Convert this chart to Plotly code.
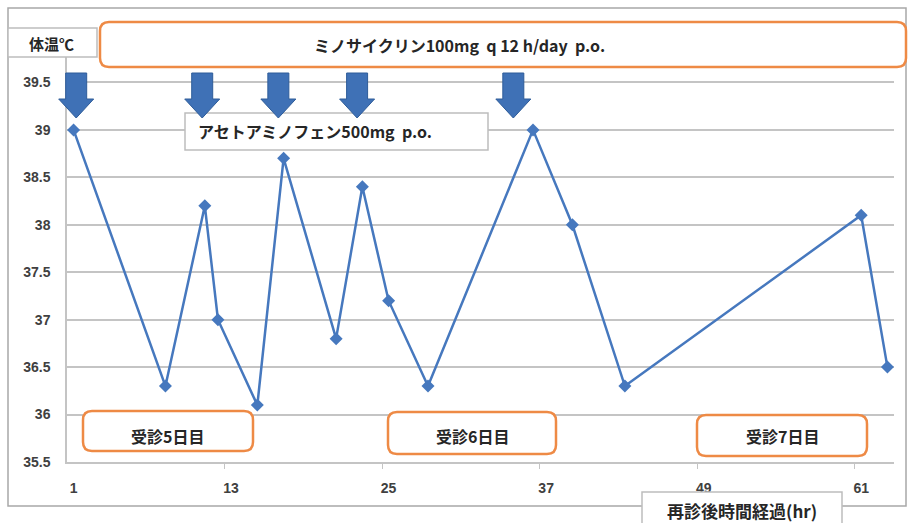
import plotly.graph_objects as go

# Body temperature readings (hours after re-visit, degrees C)
hours = [1, 8, 11, 12, 15, 17, 21, 23, 25, 28, 36, 39, 43, 61, 63]
temps = [39.0, 36.3, 38.2, 37.0, 36.1, 38.7, 36.8, 38.4, 37.2, 36.3, 39.0, 38.0, 36.3, 38.1, 36.5]

# Acetaminophen dosing times (hours)
dose_hours = [1.2, 10.8, 16.6, 22.6, 34.5]

x_ticks = [1, 13, 25, 37, 49, 61]
y_ticks = [35.5, 36, 36.5, 37, 37.5, 38, 38.5, 39, 39.5]
y_ticktext = ["35.5", "36", "36.5", "37", "37.5", "38", "38.5", "39", "39.5"]

X_RANGE = [0.5, 63.5]

W, H = 908, 523
L, R, T, B = 67, 14, 35, 61
PW, PH = W - L - R, H - T - B

BLUE = "#4678BE"
ORANGE = "#EE8A45"
GRAY = "#C4C4C4"
JP = "Noto Sans CJK JP"


def fx(px):
    return (px - L) / PW


def fy(py):
    return (H - B - py) / PH


def hour_to_paper(h):
    # same linear mapping as the x axis, so the arrows can overhang the plot area
    return (h - X_RANGE[0]) / (X_RANGE[1] - X_RANGE[0])


def rect_path(x0, y0, x1, y1, r=0):
    p = lambda a, b: f"{fx(a)},{fy(b)}"
    if r == 0:
        pts = [(x0, y0), (x1, y0), (x1, y1), (x0, y1)]
        return "M " + " L ".join(p(a, b) for a, b in pts) + " Z"
    return (f"M {p(x0 + r, y0)} L {p(x1 - r, y0)} Q {p(x1, y0)} {p(x1, y0 + r)} "
            f"L {p(x1, y1 - r)} Q {p(x1, y1)} {p(x1 - r, y1)} "
            f"L {p(x0 + r, y1)} Q {p(x0, y1)} {p(x0, y1 - r)} "
            f"L {p(x0, y0 + r)} Q {p(x0, y0)} {p(x0 + r, y0)} Z")


fig = go.Figure()
fig.add_trace(go.Scatter(
    x=hours, y=temps, mode="lines+markers",
    line=dict(color=BLUE, width=2.5),
    marker=dict(symbol="diamond", size=10, color=BLUE),
    showlegend=False, hoverinfo="x+y",
))

shapes = []
# outer chart frame
shapes.append(dict(type="path", xref="paper", yref="paper", path=rect_path(8, 8, 906, 506),
                   line=dict(color="#A8A8A8", width=1.5), fillcolor="rgba(0,0,0,0)", layer="below"))

# gray label boxes
for x0, y0, x1, y1 in [(8, 28, 97, 57), (185, 113, 488, 150), (642, 492, 842, 530)]:
    shapes.append(dict(type="path", xref="paper", yref="paper", path=rect_path(x0, y0, x1, y1),
                       line=dict(color="#BDBDBD", width=1.5), fillcolor="white", layer="above"))

# orange rounded boxes
for x0, y0, x1, y1 in [(100, 22, 906, 67), (83, 411, 253, 451), (388, 412, 556, 454), (697, 415, 867, 456)]:
    shapes.append(dict(type="path", xref="paper", yref="paper", path=rect_path(x0, y0, x1, y1, 9),
                       line=dict(color=ORANGE, width=2.5), fillcolor="white", layer="above"))

# block arrows marking acetaminophen doses
arrow = "M 0,0 L -17.5,19 L -10.5,19 L -10.5,45 L 10.5,45 L 10.5,19 L 17.5,19 Z"
for h in dose_hours:
    shapes.append(dict(type="path", xref="paper", yref="paper", xsizemode="pixel", ysizemode="pixel",
                       xanchor=hour_to_paper(h), yanchor=fy(118), path=arrow,
                       fillcolor="#3F71B6", line=dict(color="#2E5C99", width=1), layer="above"))

annotations = []
texts = [
    ("体温℃", 51, 43, 15),
    ("ミノサイクリン100mg  q 12 h/day  p.o.", 459, 45, 16),
    ("アセトアミノフェン500mg  p.o.", 315, 131, 16),
    ("受診5日目", 167, 436, 16),
    ("受診6日目", 472, 436, 16),
    ("受診7日目", 782, 436, 16),
    ("再診後時間経過(hr)", 742, 511, 17),
]
for t, cx, cy, sz in texts:
    annotations.append(dict(text=t, x=fx(cx), y=fy(cy), xref="paper", yref="paper",
                            xanchor="center", yanchor="middle", showarrow=False,
                            font=dict(family=JP, size=sz, color="#262626", weight="bold")))

tick_font = dict(family="Liberation Sans", size=14, color="#404040", weight="bold")

fig.update_layout(
    width=W, height=H, autosize=False,
    margin=dict(l=L, r=R, t=T, b=B, pad=0),
    paper_bgcolor="white", plot_bgcolor="white",
    shapes=shapes, annotations=annotations,
    xaxis=dict(range=X_RANGE, tickvals=x_ticks, showgrid=False, zeroline=False,
               showline=True, linecolor=GRAY, linewidth=1.5, ticks="",
               ticklabelstandoff=12,
               minor=dict(tickvals=[12.5, 24.5, 36.5, 48.5, 60.5], ticks="outside",
                          ticklen=5, tickcolor=GRAY),
               tickfont=tick_font),
    yaxis=dict(range=[35.5, 40], tickvals=y_ticks, ticktext=y_ticktext, showgrid=True,
               gridcolor=GRAY, gridwidth=1.6, zeroline=False, showline=True,
               linecolor=GRAY, linewidth=1.5, ticks="", ticklabelstandoff=12,
               tickfont=tick_font),
)

fig.write_html("out.html")
